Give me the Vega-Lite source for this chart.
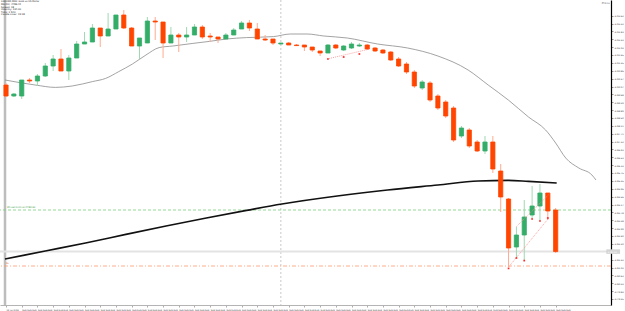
{
  "$schema": "https://vega.github.io/schema/vega-lite/v6.json",
  "width": 611,
  "height": 305,
  "autosize": {"type": "none"},
  "padding": {"left": 0, "top": 0, "right": 14, "bottom": 6},
  "background": "white",
  "config": {
    "view": {"stroke": null},
    "axis": {"grid": false, "labelOverlap": false, "labelSeparation": 0}
  },
  "title": {
    "text": ["XAUUSD,M30:  Gold vs US Dollar", "MA(20): 4786.42", "Spread: 18", "Volatility: 134.00", "Ticks: 1 520", "Candle timer: 23:18"],
    "anchor": "start", "frame": "group", "orient": "top",
    "fontSize": 2.4, "lineHeight": 2.6, "font": "DejaVu Sans", "fontWeight": "normal",
    "color": "#222", "offset": -20, "baseline": "bottom", "dx": 1
  },
  "datasets": {
    "candles": [
      {"i":0,"o":4790.15,"h":4790.25,"l":4789.55,"c":4789.60},
      {"i":1,"o":4789.60,"h":4789.75,"l":4789.55,"c":4789.70},
      {"i":2,"o":4789.60,"h":4790.40,"l":4789.45,"c":4790.40},
      {"i":3,"o":4790.40,"h":4790.50,"l":4790.25,"c":4790.35},
      {"i":4,"o":4790.35,"h":4790.70,"l":4790.10,"c":4790.60},
      {"i":5,"o":4790.60,"h":4791.25,"l":4790.55,"c":4791.10},
      {"i":6,"o":4791.10,"h":4791.65,"l":4790.85,"c":4791.45},
      {"i":7,"o":4791.45,"h":4791.95,"l":4790.85,"c":4790.85},
      {"i":8,"o":4790.85,"h":4791.65,"l":4790.40,"c":4791.50},
      {"i":9,"o":4791.50,"h":4792.35,"l":4791.50,"c":4792.20},
      {"i":10,"o":4792.20,"h":4792.80,"l":4792.20,"c":4792.30},
      {"i":11,"o":4792.30,"h":4793.20,"l":4792.30,"c":4793.00},
      {"i":12,"o":4793.00,"h":4793.00,"l":4792.05,"c":4792.60},
      {"i":13,"o":4792.60,"h":4793.75,"l":4792.60,"c":4792.95},
      {"i":14,"o":4792.95,"h":4793.65,"l":4792.95,"c":4793.65},
      {"i":15,"o":4793.65,"h":4793.90,"l":4792.95,"c":4793.00},
      {"i":16,"o":4793.00,"h":4793.05,"l":4792.10,"c":4792.10},
      {"i":17,"o":4792.10,"h":4792.50,"l":4791.45,"c":4792.50},
      {"i":18,"o":4792.25,"h":4793.55,"l":4792.25,"c":4793.35},
      {"i":19,"o":4793.35,"h":4793.55,"l":4792.40,"c":4793.30},
      {"i":20,"o":4793.30,"h":4793.30,"l":4791.50,"c":4792.25},
      {"i":21,"o":4792.25,"h":4793.05,"l":4792.25,"c":4792.65},
      {"i":22,"o":4792.65,"h":4792.75,"l":4791.80,"c":4792.55},
      {"i":23,"o":4792.55,"h":4793.05,"l":4792.30,"c":4792.65},
      {"i":24,"o":4792.65,"h":4793.20,"l":4792.65,"c":4793.05},
      {"i":25,"o":4793.05,"h":4793.15,"l":4792.45,"c":4792.55},
      {"i":26,"o":4792.60,"h":4792.75,"l":4792.30,"c":4792.55},
      {"i":27,"o":4792.55,"h":4792.55,"l":4792.25,"c":4792.45},
      {"i":28,"o":4792.45,"h":4792.75,"l":4792.45,"c":4792.65},
      {"i":29,"o":4792.65,"h":4793.00,"l":4792.65,"c":4792.90},
      {"i":30,"o":4792.95,"h":4793.35,"l":4792.95,"c":4793.25},
      {"i":31,"o":4793.25,"h":4793.40,"l":4792.85,"c":4793.00},
      {"i":32,"o":4792.95,"h":4793.25,"l":4792.45,"c":4792.45},
      {"i":33,"o":4792.45,"h":4792.65,"l":4792.35,"c":4792.40},
      {"i":34,"o":4792.45,"h":4792.45,"l":4792.15,"c":4792.25},
      {"i":35,"o":4792.20,"h":4792.25,"l":4792.20,"c":4792.25},
      {"i":36,"o":4792.25,"h":4792.30,"l":4792.15,"c":4792.15},
      {"i":37,"o":4792.15,"h":4792.20,"l":4792.10,"c":4792.12},
      {"i":38,"o":4792.15,"h":4792.15,"l":4791.85,"c":4792.05},
      {"i":39,"o":4792.05,"h":4792.05,"l":4791.80,"c":4791.90},
      {"i":40,"o":4791.85,"h":4791.85,"l":4791.60,"c":4791.75},
      {"i":41,"o":4791.75,"h":4792.20,"l":4791.75,"c":4792.15},
      {"i":42,"o":4792.15,"h":4792.20,"l":4791.95,"c":4792.00},
      {"i":43,"o":4791.90,"h":4792.15,"l":4791.85,"c":4792.10},
      {"i":44,"o":4792.00,"h":4792.30,"l":4791.95,"c":4792.20},
      {"i":45,"o":4792.10,"h":4792.25,"l":4792.05,"c":4792.15},
      {"i":46,"o":4792.15,"h":4792.20,"l":4791.90,"c":4791.95},
      {"i":47,"o":4792.00,"h":4792.05,"l":4791.80,"c":4791.85},
      {"i":48,"o":4791.90,"h":4791.95,"l":4791.70,"c":4791.75},
      {"i":49,"o":4791.80,"h":4791.85,"l":4791.35,"c":4791.40},
      {"i":50,"o":4791.45,"h":4791.55,"l":4791.05,"c":4791.10},
      {"i":51,"o":4791.20,"h":4791.30,"l":4790.70,"c":4790.80},
      {"i":52,"o":4790.80,"h":4790.90,"l":4790.00,"c":4790.10},
      {"i":53,"o":4790.00,"h":4790.40,"l":4789.90,"c":4790.30},
      {"i":54,"o":4790.25,"h":4790.35,"l":4789.30,"c":4789.40},
      {"i":55,"o":4789.60,"h":4789.70,"l":4788.90,"c":4789.00},
      {"i":56,"o":4789.30,"h":4789.40,"l":4788.50,"c":4788.60},
      {"i":57,"o":4789.00,"h":4789.10,"l":4787.30,"c":4787.40},
      {"i":58,"o":4787.60,"h":4788.10,"l":4787.50,"c":4788.00},
      {"i":59,"o":4787.90,"h":4788.00,"l":4787.00,"c":4787.10},
      {"i":60,"o":4787.30,"h":4787.40,"l":4786.80,"c":4786.85},
      {"i":61,"o":4786.85,"h":4787.60,"l":4786.70,"c":4787.30},
      {"i":62,"o":4787.30,"h":4787.60,"l":4785.75,"c":4785.95},
      {"i":63,"o":4785.85,"h":4786.20,"l":4783.80,"c":4784.55},
      {"i":64,"o":4784.45,"h":4784.50,"l":4781.05,"c":4782.00},
      {"i":65,"o":4782.05,"h":4783.05,"l":4781.50,"c":4782.65},
      {"i":66,"o":4782.65,"h":4784.40,"l":4781.35,"c":4783.55},
      {"i":67,"o":4783.65,"h":4785.10,"l":4783.45,"c":4784.10},
      {"i":68,"o":4784.10,"h":4785.20,"l":4783.35,"c":4784.75},
      {"i":69,"o":4784.75,"h":4784.75,"l":4783.40,"c":4783.85},
      {"i":70,"o":4783.90,"h":4784.00,"l":4781.75,"c":4781.82}
    ],
    "ma20": [
      {"i":-0.13,"p":4790.40},{"i":3.72,"p":4790.15},{"i":6.28,"p":4790.03},{"i":8.42,"p":4790.10},
      {"i":11.0,"p":4790.32},{"i":12.69,"p":4790.48},{"i":14.36,"p":4790.82},{"i":16.1,"p":4791.20},
      {"i":17.82,"p":4791.65},{"i":19.5,"p":4792.02},{"i":21.24,"p":4792.10},{"i":23.8,"p":4792.23},
      {"i":25.9,"p":4792.33},{"i":28.08,"p":4792.45},{"i":30.64,"p":4792.52},{"i":34.06,"p":4792.57},
      {"i":36.2,"p":4792.70},{"i":38.33,"p":4792.70},{"i":40.47,"p":4792.60},{"i":43.46,"p":4792.50},
      {"i":47.31,"p":4792.20},{"i":51.15,"p":4792.00},{"i":55.0,"p":4791.60},{"i":58.85,"p":4790.90},
      {"i":61.41,"p":4790.15},{"i":63.97,"p":4789.40},{"i":66.54,"p":4788.55},{"i":68.72,"p":4787.90},
      {"i":70.0,"p":4787.25},{"i":71.28,"p":4786.50},{"i":72.95,"p":4786.00},{"i":74.62,"p":4785.65},
      {"i":75.13,"p":4785.40}
    ],
    "ma200": [
      {"i":-0.13,"p":4781.45},{"i":5.0,"p":4781.85},{"i":10.13,"p":4782.25},{"i":15.26,"p":4782.68},
      {"i":20.38,"p":4783.10},{"i":25.51,"p":4783.50},{"i":30.64,"p":4783.88},{"i":35.13,"p":4784.20},
      {"i":42.18,"p":4784.60},{"i":48.59,"p":4784.90},{"i":55.0,"p":4785.15},{"i":60.13,"p":4785.35},
      {"i":63.97,"p":4785.38},{"i":66.54,"p":4785.33},{"i":70.13,"p":4785.25}
    ],
    "levels": [
      {"k":"sell","p":4783.90,"label":"#1 sell 0.01 at 4783.90"},
      {"k":"bid","p":4781.82,"label":"4781.82"},
      {"k":"sl","p":4781.10,"label":"SL"}
    ],
    "trades": [
      {"id":"a","i":64.06,"p":4781.07},{"id":"a","i":69.1,"p":4783.49},
      {"id":"b","i":65.0,"p":4783.07},{"id":"b","i":69.2,"p":4784.70},
      {"id":"c","i":40.9,"p":4791.45},{"id":"c","i":46.3,"p":4791.95}
    ],
    "tmarks": [
      {"i":64,"p":4780.98},{"i":65,"p":4781.50},{"i":66,"p":4781.37},{"i":67,"p":4783.45},
      {"i":68,"p":4783.35},{"i":69,"p":4783.50},{"i":41,"p":4791.45},{"i":43,"p":4791.55},{"i":45,"p":4791.70}
    ]
  },
  "layer": [
    {
      "data": {"values": [{"i": 35.0}]},
      "mark": {"type": "rule", "color": "#c8c8c8", "strokeDash": [2, 2], "strokeWidth": 1},
      "encoding": {
        "x": {
          "field": "i", "type": "quantitative",
          "scale": {"domain": [-0.13, 76.41], "nice": false, "zero": false},
          "axis": {
            "orient": "bottom", "tickCount": 200,
            "values": [0,2,4,6,8,10,12,14,16,18,20,22,24,26,28,30,32,34,36,38,40,42,44,46,48,50,52,54,56,58,60,62,64,66,68,70],
            "labelExpr": "datum.value == 0 ? '15 Jan 2026' : timeFormat(datetime(2026,0,15,12,0) + datum.value*1800000, '%d %b %H:%M')",
            "labelAlign": "left", "labelBaseline": "top", "labelFontSize": 2.05, "labelPadding": 1,
            "labelColor": "#333", "labelFont": "DejaVu Sans", "tickSize": 2, "tickColor": "#777", "tickWidth": 0.6,
            "domainColor": "#b4b4b4", "domainWidth": 1, "title": null,
            "labelOverlap": false, "labelFlush": false, "labelBound": false, "grid": false
          }
        }
      }
    },
    {
      "data": {"values": [{"i": -0.13}]},
      "mark": {"type": "rule", "color": "#bdbdbd", "strokeWidth": 2.5},
      "encoding": {"x": {"field": "i", "type": "quantitative"}}
    },
    {
      "data": {"name": "levels"},
      "transform": [{"filter": "datum.k == 'bid'"}],
      "mark": {"type": "rule", "color": "#e3e3e3", "strokeWidth": 2},
      "encoding": {
        "y": {
          "field": "p", "type": "quantitative",
          "scale": {"domain": [4779.15, 4794.40], "nice": false, "zero": false},
          "axis": {
            "orient": "right", "tickCount": 200,
            "values": [4793.62,4793.22,4792.83,4792.43,4792.04,4791.65,4791.25,4790.86,4790.47,4790.07,4789.68,4789.29,4788.89,4788.50,4788.11,4787.71,4787.32,4786.93,4786.53,4786.14,4785.75,4785.35,4784.96,4784.56,4784.17,4783.78,4783.38,4782.99,4782.60,4782.20,4781.42,4781.02,4780.63,4780.24,4779.84,4779.45],
            "format": ".2f", "labelFontSize": 2.2, "labelPadding": 1, "labelColor": "#333", "labelFont": "DejaVu Sans",
            "tickSize": 2, "tickColor": "#555", "tickWidth": 0.6,
            "domainColor": "#000", "domainWidth": 1.2,
            "title": "Prices", "titleAngle": 0, "titleFontSize": 2.6, "titleFontWeight": "normal", "titleColor": "#555",
            "titleFont": "DejaVu Sans", "titleAlign": "right", "titleBaseline": "middle", "titleX": -2, "titleY": 3,
            "grid": false, "labelOverlap": false, "labelFlush": false
          }
        }
      }
    },
    {
      "data": {"name": "levels"},
      "transform": [{"filter": "datum.k == 'sell'"}],
      "mark": {"type": "rule", "color": "#7ccf7c", "strokeWidth": 0.8, "strokeDash": [3, 2]},
      "encoding": {"y": {"field": "p", "type": "quantitative"}}
    },
    {
      "data": {"name": "levels"},
      "transform": [{"filter": "datum.k == 'sl'"}],
      "mark": {"type": "rule", "color": "#ff9a70", "strokeWidth": 0.8, "strokeDash": [4, 2, 1, 2]},
      "encoding": {"y": {"field": "p", "type": "quantitative"}}
    },
    {
      "data": {"name": "levels"},
      "transform": [{"filter": "datum.k == 'sell'"}],
      "mark": {"type": "text", "align": "left", "baseline": "bottom", "fontSize": 2.4, "font": "DejaVu Sans", "color": "#3a9a3a", "dy": -0.5, "dx": 2},
      "encoding": {"x": {"datum": -0.13, "type": "quantitative"}, "y": {"field": "p", "type": "quantitative"}, "text": {"field": "label"}}
    },
    {
      "data": {"name": "levels"},
      "transform": [{"filter": "datum.k == 'sl'"}],
      "mark": {"type": "text", "align": "left", "baseline": "bottom", "fontSize": 2.4, "font": "DejaVu Sans", "color": "#e06030", "dy": -0.5, "dx": 1},
      "encoding": {"x": {"datum": -0.13, "type": "quantitative"}, "y": {"field": "p", "type": "quantitative"}, "text": {"field": "label"}}
    },
    {
      "data": {"name": "levels"},
      "transform": [{"filter": "datum.k == 'bid'"}],
      "mark": {"type": "rect", "color": "#d4d4d4", "height": 4.5, "clip": false},
      "encoding": {"x": {"datum": 76.45, "type": "quantitative"}, "x2": {"datum": 78.2}, "y": {"field": "p", "type": "quantitative"}}
    },
    {
      "data": {"name": "levels"},
      "transform": [{"filter": "datum.k == 'bid'"}],
      "mark": {"type": "text", "align": "left", "baseline": "middle", "fontSize": 2.2, "font": "DejaVu Sans", "color": "#ffffff", "dx": 1.5},
      "encoding": {"x": {"datum": 76.45, "type": "quantitative"}, "y": {"field": "p", "type": "quantitative"}, "text": {"field": "label"}}
    },
    {
      "data": {"name": "ma200"},
      "mark": {"type": "line", "color": "#111111", "strokeWidth": 1.6, "interpolate": "monotone"},
      "encoding": {"x": {"field": "i", "type": "quantitative"}, "y": {"field": "p", "type": "quantitative"}}
    },
    {
      "data": {"name": "ma20"},
      "mark": {"type": "line", "color": "#8c8c8c", "strokeWidth": 0.8, "interpolate": "monotone"},
      "encoding": {"x": {"field": "i", "type": "quantitative"}, "y": {"field": "p", "type": "quantitative"}}
    },
    {
      "data": {"name": "candles"},
      "mark": {"type": "rule", "strokeWidth": 1},
      "encoding": {
        "x": {"field": "i", "type": "quantitative"},
        "y": {"field": "l", "type": "quantitative"},
        "y2": {"field": "h"},
        "color": {"condition": {"test": "datum.c >= datum.o", "value": "#9fd9b2"}, "value": "#ffab8f"}
      }
    },
    {
      "data": {"name": "candles"},
      "mark": {"type": "bar", "size": 4.2, "strokeWidth": 0.8},
      "encoding": {
        "x": {"field": "i", "type": "quantitative"},
        "y": {"field": "o", "type": "quantitative"},
        "y2": {"field": "c"},
        "color": {"condition": {"test": "datum.c >= datum.o", "value": "#34ad68"}, "value": "#ff4500"},
        "stroke": {"condition": {"test": "datum.c >= datum.o", "value": "#34ad68"}, "value": "#ff4500"}
      }
    },
    {
      "data": {"name": "trades"},
      "mark": {"type": "line", "color": "#ff8a8a", "strokeWidth": 0.8, "strokeDash": [1, 1]},
      "encoding": {"x": {"field": "i", "type": "quantitative"}, "y": {"field": "p", "type": "quantitative"}, "detail": {"field": "id"}}
    },
    {
      "data": {"name": "tmarks"},
      "mark": {"type": "square", "size": 3, "color": "#ff2a2a", "opacity": 1, "filled": true},
      "encoding": {"x": {"field": "i", "type": "quantitative"}, "y": {"field": "p", "type": "quantitative"}}
    }
  ]
}
